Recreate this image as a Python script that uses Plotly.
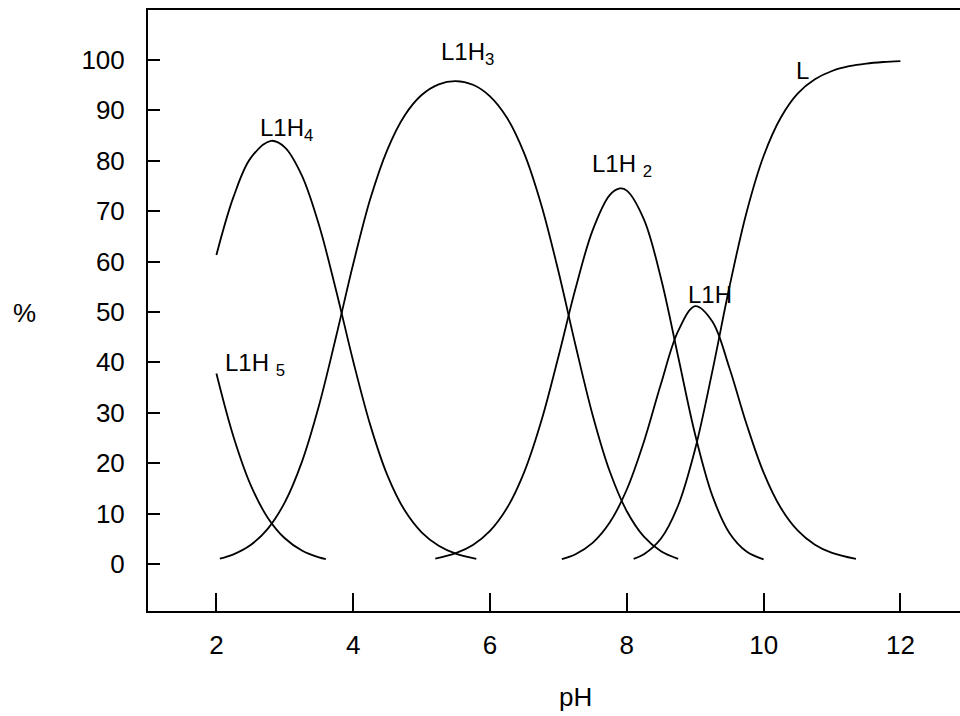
import plotly.graph_objects as go

# ---- data (pH vs % species) ----
ph_L1H5 = [2.0, 2.25, 2.5, 2.75, 3.0, 3.25, 3.5, 3.6]
pct_L1H5 = [37.8, 25.25, 15.70, 9.19, 5.10, 2.67, 1.31, 0.97]

ph_L1H4 = [2.0, 2.25, 2.5, 2.8, 3.0, 3.25, 3.5, 3.75, 4.0, 4.25, 4.5, 4.75, 5.0, 5.25, 5.5, 5.8]
pct_L1H4 = [61.3, 72.83, 80.53, 83.96, 82.67, 77.06, 67.24, 54.27, 40.24, 27.55, 17.58, 10.69,
            6.29, 3.62, 2.05, 1.02]

ph_L1H3 = [2.05, 2.25, 2.5, 2.75, 3.0, 3.25, 3.5, 3.75, 4.0, 4.25, 4.5, 4.75, 5.0, 5.25, 5.5,
           5.75, 6.0, 6.25, 6.5, 6.75, 7.0, 7.25, 7.5, 7.75, 8.0, 8.25, 8.5, 8.75]
pct_L1H3 = [1.06, 1.92, 3.77, 6.98, 12.23, 20.27, 31.45, 45.14, 59.51, 72.45, 82.23, 88.95,
            93.05, 95.18, 95.80, 95.08, 92.79, 88.48, 81.47, 71.24, 58.07, 43.40, 29.57,
            18.39, 10.47, 5.43, 2.53, 1.03]

ph_L1H2 = [5.2, 5.5, 5.75, 6.0, 6.25, 6.5, 6.75, 7.0, 7.25, 7.5, 7.75, 7.9, 8.0, 8.25, 8.5,
           8.75, 9.0, 9.25, 9.5, 9.75, 10.0]
pct_L1H2 = [1.06, 2.15, 3.78, 6.57, 11.14, 18.24, 28.36, 41.11, 54.64, 66.20, 73.19, 74.52,
            74.09, 68.38, 56.66, 41.17, 25.64, 13.56, 6.16, 2.47, 0.91]

ph_L1H = [7.05, 7.25, 7.5, 7.75, 8.0, 8.25, 8.5, 8.75, 9.0, 9.25, 9.5, 9.75, 10.0, 10.25,
          10.5, 10.75, 11.0, 11.35]
pct_L1H = [0.98, 1.94, 4.18, 8.21, 14.78, 24.26, 35.75, 46.19, 51.15, 48.12, 38.89, 27.77,
           18.13, 11.15, 6.61, 3.83, 2.19, 0.99]

ph_L = [8.1, 8.25, 8.5, 8.75, 9.0, 9.25, 9.5, 9.75, 10.0, 10.25, 10.5, 10.75, 11.0, 11.25,
        11.5, 11.75, 12.0]
pct_L = [1.03, 1.93, 5.05, 11.60, 22.85, 38.22, 54.95, 69.76, 80.96, 88.54, 93.38, 96.17,
         97.81, 98.76, 99.30, 99.60, 99.78]

series = [
    ("L1H5", ph_L1H5, pct_L1H5),
    ("L1H4", ph_L1H4, pct_L1H4),
    ("L1H3", ph_L1H3, pct_L1H3),
    ("L1H2", ph_L1H2, pct_L1H2),
    ("L1H", ph_L1H, pct_L1H),
    ("L", ph_L, pct_L),
]

# curve labels: (text, pH, %)
label_texts = ["L1H<sub>4</sub>", "L1H<sub>3</sub>", "L1H <sub>2</sub>", "L1H", "L", "L1H <sub>5</sub>"]
label_ph = [3.02, 5.67, 7.93, 9.21, 10.57, 2.56]
label_pct = [86.3, 101.2, 79.0, 53.4, 98.0, 39.5]

x_ticks = [2, 4, 6, 8, 10, 12]
y_ticks = [0, 10, 20, 30, 40, 50, 60, 70, 80, 90, 100]

FONT = "Liberation Sans, Arial, Helvetica, sans-serif"

fig = go.Figure()
for name, xs, ys in series:
    fig.add_trace(go.Scatter(
        x=xs, y=ys, mode="lines", name=name,
        line=dict(color="black", width=1.8, shape="spline", smoothing=1.0),
        showlegend=False, hoverinfo="skip",
    ))

annotations = []
for t, xv, yv in zip(label_texts, label_ph, label_pct):
    annotations.append(dict(x=xv, y=yv, xref="x", yref="y", text=t, showarrow=False,
                            xanchor="center", yanchor="middle",
                            font=dict(family=FONT, size=24, color="black")))
annotations.append(dict(x=-0.1515, y=0.496, xref="paper", yref="paper", text="%",
                        showarrow=False, xanchor="center", yanchor="middle",
                        font=dict(family=FONT, size=26, color="black")))
annotations.append(dict(x=0.526, y=-0.143, xref="paper", yref="paper", text="pH",
                        showarrow=False, xanchor="center", yanchor="middle",
                        font=dict(family=FONT, size=26, color="black")))

fig.update_layout(
    width=960, height=716,
    margin=dict(l=148, r=0, t=10, b=105, pad=0),
    paper_bgcolor="white", plot_bgcolor="white",
    font=dict(family=FONT, color="black"),
    annotations=annotations,
    xaxis=dict(
        range=[1.0, 12.871], tickvals=x_ticks, ticktext=[str(v) for v in x_ticks],
        ticks="inside", ticklen=18, tickwidth=2, tickcolor="black",
        showline=True, linecolor="black", linewidth=2, mirror=True,
        showgrid=False, zeroline=False, ticklabelstandoff=10,
        tickfont=dict(family=FONT, size=26, color="black"),
    ),
    yaxis=dict(
        range=[-9.33, 109.92], tickvals=y_ticks, ticktext=[str(v) for v in y_ticks],
        ticks="inside", ticklen=12, tickwidth=2, tickcolor="black",
        showline=True, linecolor="black", linewidth=2, mirror=False,
        showgrid=False, zeroline=False, ticklabelstandoff=16,
        tickfont=dict(family=FONT, size=26, color="black"),
    ),
)

fig.write_html(
    "out.html",
    config={"displayModeBar": False},
    post_script="document.body.style.margin='0';document.body.style.overflow='hidden';",
)
